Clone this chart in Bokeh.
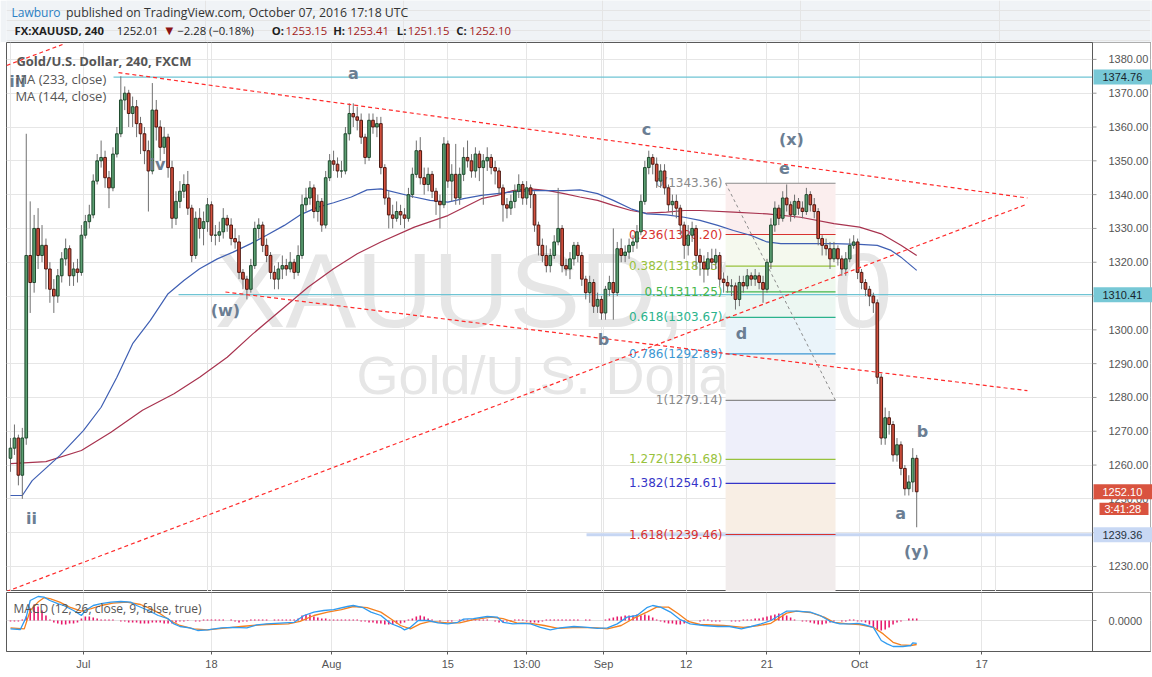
from bokeh.plotting import figure
from bokeh.layouts import column
from bokeh.models import Range1d, FixedTicker, NumeralTickFormatter, Grid
from bokeh.core.properties import value
from bokeh.embed import file_html
from bokeh.resources import INLINE

# ---------------- data (FX:XAUUSD, 240, two 4h bars per candle) ----------------
first_open = 1262.0
close = [
    1265, 1268, 1257, 1268, 1322, 1314, 1330, 1322, 1325, 1318,
    1312, 1310, 1316, 1321, 1324, 1316, 1318, 1317, 1328, 1332,
    1334, 1344, 1350, 1351, 1345, 1342, 1352, 1358, 1368, 1370,
    1364, 1366, 1361, 1358, 1353, 1347, 1365, 1360, 1354, 1357,
    1348, 1333, 1338, 1341, 1343, 1336, 1322, 1333, 1330, 1332,
    1337, 1328, 1328, 1329, 1333, 1331, 1327, 1326, 1317, 1315,
    1312, 1319, 1330, 1331, 1325, 1322, 1317, 1315, 1318, 1319,
    1318, 1320, 1317, 1322, 1337, 1339, 1342, 1335, 1338, 1331,
    1345, 1350, 1349, 1347, 1347, 1358, 1364, 1363, 1362, 1357,
    1351, 1362, 1360, 1361, 1348, 1339, 1334, 1333, 1335, 1334,
    1333, 1340, 1346, 1353, 1345, 1343, 1346, 1341, 1338, 1337,
    1355, 1344, 1346, 1339, 1346, 1351, 1350, 1347, 1352, 1348,
    1350, 1351, 1348, 1347, 1342, 1337, 1336, 1338, 1341, 1343,
    1339, 1342, 1340, 1331, 1325, 1322, 1319, 1322, 1326, 1330,
    1319, 1318, 1321, 1325, 1322, 1315, 1311, 1314, 1307, 1309,
    1305, 1312, 1314, 1311, 1324, 1322, 1323, 1325, 1326, 1329,
    1338, 1348, 1351, 1349, 1344, 1347, 1342, 1337, 1338, 1336,
    1331, 1325, 1328, 1330, 1322, 1320, 1318, 1321, 1320, 1322,
    1315, 1314, 1313, 1313, 1309, 1314, 1313, 1316, 1315, 1316,
    1314, 1312, 1320, 1331, 1336, 1333, 1339, 1337, 1334, 1338,
    1336, 1335, 1340, 1337, 1335, 1327, 1325, 1324, 1321, 1324,
    1321, 1318, 1321, 1325, 1326, 1317, 1314, 1312, 1310, 1308,
    1286, 1268, 1274, 1272, 1263, 1266, 1259, 1253, 1255, 1262,
    1252.10,
]
high = [
    1268, 1272, 1269, 1271, 1358, 1338, 1334, 1336, 1331, 1327,
    1320, 1315, 1318, 1323, 1327, 1325, 1320, 1321, 1331, 1334,
    1337, 1346, 1352, 1356, 1353, 1347, 1354, 1360, 1375, 1372,
    1371, 1369, 1368, 1363, 1360, 1356, 1373, 1368, 1362, 1360,
    1358, 1350, 1341, 1344, 1346, 1347, 1337, 1335, 1336, 1335,
    1339, 1338, 1331, 1332, 1336, 1334, 1333, 1330, 1328, 1318,
    1316, 1321, 1332, 1333, 1332, 1327, 1323, 1319, 1320, 1322,
    1321, 1323, 1321, 1325, 1340, 1342, 1344, 1343, 1340, 1339,
    1347, 1352, 1353, 1351, 1350, 1360, 1367, 1367, 1366, 1364,
    1358, 1364, 1364, 1363, 1363, 1349, 1341, 1337, 1338, 1337,
    1336, 1342, 1348, 1356, 1357, 1348, 1348, 1347, 1342, 1340,
    1357, 1356, 1349, 1355, 1348, 1354, 1356, 1352, 1354, 1353,
    1352, 1354, 1352, 1350, 1348, 1343, 1339, 1340, 1343, 1346,
    1344, 1344, 1343, 1341, 1332, 1327, 1325, 1324, 1328, 1342,
    1331, 1321, 1323, 1326, 1326, 1323, 1316, 1316, 1315, 1311,
    1310, 1313, 1316, 1330, 1326, 1327, 1325, 1327, 1328, 1331,
    1340, 1350, 1353, 1352, 1351, 1349, 1349, 1343, 1340, 1340,
    1337, 1332, 1331, 1332, 1331, 1324, 1322, 1323, 1324, 1324,
    1323, 1317, 1316, 1315, 1314, 1316, 1316, 1318, 1317, 1318,
    1317, 1316, 1321, 1333, 1338, 1337, 1341, 1343, 1338, 1340,
    1339, 1338, 1342, 1341, 1339, 1336, 1328, 1327, 1326, 1326,
    1325, 1322, 1323, 1327, 1328, 1327, 1318, 1315, 1313, 1311,
    1309, 1287, 1277, 1276, 1273, 1268, 1267, 1260, 1257, 1265,
    1263,
]
low = [
    1258, 1263, 1254, 1250, 1266, 1305, 1311, 1318, 1320, 1312,
    1308, 1305, 1308, 1314, 1319, 1313, 1313, 1314, 1316, 1327,
    1330, 1333, 1343, 1348, 1342, 1336, 1341, 1351, 1357, 1365,
    1360, 1360, 1357, 1352, 1349, 1335, 1346, 1356, 1350, 1352,
    1345, 1330, 1331, 1336, 1339, 1334, 1320, 1321, 1327, 1325,
    1329, 1326, 1325, 1326, 1327, 1329, 1325, 1324, 1315, 1312,
    1309, 1311, 1318, 1327, 1323, 1320, 1315, 1312, 1312, 1315,
    1316, 1317, 1315, 1316, 1321, 1335, 1337, 1333, 1332, 1329,
    1330, 1344, 1347, 1345, 1345, 1346, 1356, 1360, 1359, 1355,
    1349, 1350, 1358, 1357, 1346, 1337, 1330, 1330, 1332, 1331,
    1330, 1332, 1339, 1345, 1343, 1340, 1341, 1339, 1334, 1330,
    1336, 1342, 1338, 1337, 1337, 1344, 1348, 1345, 1345, 1344,
    1337, 1347, 1346, 1343, 1340, 1332, 1333, 1334, 1336, 1339,
    1337, 1337, 1336, 1329, 1322, 1320, 1317, 1317, 1321, 1325,
    1317, 1316, 1315, 1319, 1320, 1313, 1309, 1308, 1305, 1305,
    1303, 1303, 1310, 1303, 1310, 1320, 1320, 1321, 1323, 1324,
    1328, 1337, 1346, 1346, 1342, 1342, 1340, 1335, 1334, 1333,
    1328, 1321, 1322, 1326, 1318, 1316, 1314, 1316, 1318, 1318,
    1313, 1311, 1311, 1310, 1306, 1307, 1311, 1312, 1313, 1313,
    1312, 1308, 1311, 1318, 1329, 1331, 1332, 1335, 1332, 1333,
    1334, 1333, 1334, 1335, 1333, 1325, 1322, 1322, 1318, 1320,
    1319, 1316, 1316, 1320, 1324, 1315, 1312, 1310, 1307, 1305,
    1284, 1266, 1266, 1269, 1261, 1261, 1257, 1251, 1251, 1252,
    1241.6,
]
bars_per_candle = 2

ma144_x = [0, 6, 11, 25, 37, 46, 54, 62, 71, 80, 88, 96, 105, 113, 122, 130, 139, 147, 156, 164,
           173, 181, 188, 205, 213, 222, 230, 239, 247, 255, 264, 273, 281, 289, 298, 306, 315, 323,
           333, 342, 350, 359, 367, 376, 384, 391, 401, 418, 431, 440, 447, 452, 460]
ma144 = [1251.0, 1251.0, 1255.4, 1262.8, 1270.2, 1277.1, 1286.0, 1295.9, 1302.8, 1310.7,
         1314.6, 1318.1, 1321.0, 1323.0, 1325.5, 1328.0, 1330.9, 1334.0, 1336.3, 1337.6,
         1339.3, 1341.4, 1341.7, 1339.3, 1338.3, 1337.8, 1338.8, 1339.8, 1340.3, 1340.8,
         1341.2, 1341.2, 1341.2, 1341.4, 1340.3, 1338.3, 1335.8, 1334.3, 1334.0, 1333.3,
         1332.4, 1330.9, 1329.4, 1327.9, 1326.0, 1325.5, 1325.5, 1325.5, 1325.3, 1325.0,
         1323.5, 1321.5, 1317.6]
ma233_x = [0, 18, 36, 51, 67, 83, 96, 110, 123, 139, 151, 164, 176, 188, 205, 222, 239, 247, 255,
           264, 273, 281, 289, 298, 306, 315, 323, 333, 342, 350, 367, 384, 401, 418, 431, 442, 452, 460]
ma233 = [1260.4, 1261.0, 1264.3, 1269.7, 1276.2, 1281.1, 1286.0, 1291.9, 1298.8, 1306.7,
         1312.6, 1318.1, 1322.5, 1326.0, 1330.4, 1333.8, 1338.8, 1339.8, 1341.2, 1341.7,
         1341.2, 1340.3, 1339.3, 1338.3, 1336.8, 1335.3, 1334.5, 1334.8, 1335.3, 1335.3,
         1334.8, 1334.3, 1333.3, 1331.4, 1330.4, 1328.4, 1325.0, 1322.0]

macd_x = [0, 5, 8, 10, 14, 17, 20, 24, 27, 32, 36, 38, 42, 46, 51, 56, 61, 64, 70, 75,
          80, 83, 86, 91, 95, 100, 107, 113, 120, 125, 130, 139, 144, 149, 154, 159, 164, 171, 174, 179,
          183, 188, 193, 198, 200, 203, 207, 212, 217, 222, 227, 230, 235, 242, 247, 250, 255, 260, 264, 269,
          274, 279, 286, 293, 298, 303, 308, 313, 318, 323, 326, 330, 335, 340, 345, 352, 359, 365, 371, 376,
          381, 386, 391, 394, 399, 406, 411, 416, 421, 426, 430, 433, 438, 442, 445, 448, 453, 457, 458, 460]
macd_line = [-4.2, -4.5, 1.7, 10, 12, 11.7, 10, 8.4, 7.5, 5, 2.5, 5, 7.5, 8.4, 9.2, 9.5, 9.2, 7.5, 5, 2.5,
             0.9, -1.7, -3, -3.7, -5, -4.7, -3.7, -3.4, -3.7, -2.2, -1.7, -1.2, -0.9, 2.5, 4.2, 5, 5.4, 7, 7.5, 6.4,
             4.2, 2.5, -1.5, -3.4, -4.7, -3.4, 0, 0, -1.2, -1.7, -0.9, 0.7, 0.9, 2, 1.7, -0.9, -1.7, -1.4, -1.7, -3.4,
             -4.7, -3.7, -3, -3.4, -3.9, -3.7, -1.7, 1.7, 2.5, 6.4, 7.5, 6.7, 4.2, 0.4, -1.7, -2.5, -3, -3, -4.2, -3,
             -1.7, 0, 3, 4.7, 4.7, 4.2, 2.5, -0.4, -1.7, -1.7, -1.4, -2, -3.4, -10, -11.7, -13, -13, -12.5, -11.2, -11.4]
signal_x = [0, 7, 10, 14, 17, 20, 25, 30, 36, 41, 46, 52, 59, 66, 71, 76, 81, 86, 93, 100,
            110, 117, 123, 130, 141, 147, 154, 161, 168, 174, 181, 188, 193, 198, 203, 208, 213, 222, 228, 235,
            244, 250, 257, 264, 271, 278, 288, 298, 303, 310, 316, 323, 328, 334, 339, 344, 350, 362, 372, 379,
            386, 394, 399, 406, 413, 418, 425, 431, 438, 443, 448, 452, 457, 460]
signal_line = [-3.7, -4.2, 5, 9.2, 11.4, 10.9, 9.2, 6.7, 4.7, 5.9, 7.5, 8.7, 9.2, 8, 5.9, 3.4, 0, -2.5, -4.2, -4.7,
               -3.7, -3, -2.5, -2, -1.7, -0.4, 2.5, 4.2, 5.4, 7, 6.4, 4.2, 0.9, -2.5, -4.2, -1.7, -0.4, -1.2, -1.2, 0.4,
               1.7, 0.9, -1.2, -1.4, -2.5, -3.9, -3.4, -3.7, -4.2, -2.5, 0.9, 4.2, 6.7, 6.7, 3.4, -0.4, -2, -2.5, -3.4, -2.7,
               -1.4, 3.7, 4.7, 4, 1.7, -0.9, -1.7, -2, -3.4, -6.7, -10.9, -12.2, -12.5, -12]
macd_hist = [
    -0.5, -0.5, -0.5, 0.5, 2, 6, 8, 7, 5, 2.5,
    0.5, -1, -1.5, -2, -2, -1.5, -1.5, -1, 1, 2,
    2, 1.5, 1, 0.5, 0.5, 0.5, 0.5, 0, -0.5, -0.5,
    -1, -1, -1, -1.5, -1.5, -1.5, -1, -1, -1, -1.5,
    -1.5, -1.5, -1, -0.5, -0.5, -0.3, 0, -0.5, -0.5, 0.5,
    0.5, 0.5, 0.5, 0.5, 0.5, 0, 0.5, -0.5, -1, -0.5,
    -0.5, 0.5, 0.5, 0.5, 0.5, 0.5, 0, 0.5, 0.5, 0.5,
    0.5, 0.5, 0.5, 1, 2.5, 3, 3, 2, 1.5, 1,
    1, 0.5, 0.5, 0.5, 0.5, 0.5, 0.5, 0.5, 0.5, -0.5,
    -0.5, -1, -1, -1.5, -1.5, -2, -2, -2, -1.5, -1.5,
    -1, 0.5, 1, 2, 2.5, 2, 1, 0.5, 0, -0.5,
    0, -0.5, -0.5, 0, 0.5, 0.5, 0.5, 0.5, 0.5, 0.5,
    0.5, 0.5, 0, -0.5, -1, -1, -0.5, -0.5, 0.5, 0.5,
    0.5, -0.5, -1, -1, -1, -0.5, 0.5, 0.5, 0.5, 0.5,
    0.5, 0.5, 0.5, 0.5, 0.5, 0, 0.5, 0.5, 0, 0,
    0, 0.5, 1, 1.5, 2, 2, 2.5, 2.5, 2.5, 3,
    2.5, 3, 2.5, 1.5, 0.5, -0.5, -1, -1.5, -1.5, -2,
    -2, -1.5, -0.5, 0, 0, -0.5, 0.5, 0.5, -0.5, -0.5,
    -0.5, 0, 0, -0.5, -0.5, -0.5, 0.5, 0.5, 0.5, 1,
    1, 1.5, 2, 2.5, 3, 3.5, 3, 2.5, 1.5, 0.5,
    0, -0.5, -0.5, -1, -1.5, -2, -2, -1.5, -1, -0.5,
    0, -0.5, -0.5, 0.5, 0.5, -0.5, -0.5, -1, -2, -3.5,
    -4.5, -5, -4.5, -3.5, -2, -1, -0.5, 0, 1, 1,
    1,
]

fib_ratio = [0, 0.236, 0.382, 0.5, 0.618, 0.786, 1, 1.272, 1.382, 1.618]
fib_price = [1343.36, 1328.20, 1318.83, 1311.25, 1303.67, 1292.89, 1279.14, 1261.68, 1254.61, 1239.46]
fib_start, fib_end = 363.0, 418.8

hline_price = [1374.76, 1310.41, 1239.36]
hline_start = [52.3, 85.3, 292.4]

trend_x0 = [54.8, 109.1, -2.0, -2.0]
trend_y0 = [1376.1, 1311.2, 1222.6, 1378.2]
trend_x1 = [516.2, 516.2, 515.2, 26.4]
trend_y1 = [1339.0, 1282.0, 1337.0, 1384.4]

wave_text = ["iii", "a", "iv", "(w)", "ii", "c", "(x)", "e", "b", "d", "b", "a", "(y)"]
wave_x = [3.6, 174.1, 74.6, 109.1, 10.7, 322.8, 396.4, 392.9, 301.0, 371.1, 462.9, 451.8, 459.9]
wave_y = [1373.5, 1375.9, 1348.9, 1305.7, 1244.2, 1359.3, 1356.3, 1348.0, 1297.2, 1298.9, 1270.0, 1245.7, 1234.4]

tag_price = [1374.76, 1310.41, 1252.10, 1239.36]
tag_text = ["1374.76", "1310.41", "1252.10", "1239.36"]
tag_fill = ["#77c8d6", "#77c8d6", "#d9533f", "#c8d8f4"]
tag_color = ["#17262e", "#17262e", "#ffffff", "#26323d"]
countdown_text = "3:41:28"

tick_idx = [37, 102, 163, 222, 262, 301, 343, 384, 431, 493]
tick_label = ["Jul", "18", "Aug", "15", "13:00", "Sep", "12", "21", "Oct", "17"]
price_ticks = list(range(1230, 1390, 10))

# ---------------- derived ----------------
n = len(close)
assert len(high) == n and len(low) == n and len(macd_hist) == n
xs = [bars_per_candle * i for i in range(n)]
opens = [first_open] + close[:-1]
hi = [max(hh, o, c) for hh, o, c in zip(high, opens, close)]
lo = [min(ll, o, c) for ll, o, c in zip(low, opens, close)]
up = [c >= o for o, c in zip(opens, close)]
body_top = [max(o, c) for o, c in zip(opens, close)]
body_bot = [min(o, c) for o, c in zip(opens, close)]
body_fill = ["#5c9f72" if u else "#d4503d" for u in up]
body_line = ["#1f4a2e" if u else "#4d1710" for u in up]

SANS = "Liberation Sans"
UI = "Open Sans"
VERD = "DejaVu Sans"
PX_PER_BAR = 1.97
X0 = -2.03                      # left frame edge (px 6)
X_AX = X0 + 1086 / PX_PER_BAR   # price-scale separator (px 1092)
X_END = X0 + 1144 / PX_PER_BAR  # outer right edge (px 1150)
Y0, Y1 = 1222.6, 1385.0
PX_PER_USD = 549 / (Y1 - Y0)
GRID = "#e6e6e6"
FRAME = "#5a5a5a"
BG = "#f0f3f6"


def style_scale(fig):
    ax = fig.yaxis[0]
    ax.major_label_text_font = SANS
    ax.major_label_text_font_size = "11px"
    ax.major_label_text_color = "#555555"
    ax.axis_line_color = None
    ax.major_tick_line_color = None
    ax.minor_tick_line_color = None
    ax.major_label_standoff = -48


# ---------------- header ----------------
h = figure(width=1152, height=42, x_range=Range1d(0, 1152), y_range=Range1d(42, 0),
           x_axis_location=None, y_axis_location=None, toolbar_location=None, output_backend="svg",
           min_border=0, outline_line_color=None, background_fill_color=BG, border_fill_color=BG)
h.text(x=[5], y=[12], text=["Lawburo"], text_font=value(UI), text_font_size=value("12px"),
       text_color="#2b7fc3", text_baseline="middle")
h.text(x=[60], y=[12], text=["published on TradingView.com, October 07, 2016 17:18 UTC"],
       text_font=value(UI), text_font_size=value("12.3px"), text_color="#333333", text_baseline="middle")
h.text(x=[8, 267, 329, 393, 453], y=[30] * 5, text=["FX:XAUUSD, 240", "O:", "H:", "L:", "C:"],
       text_font=value(UI), text_font_size=value("11.3px"), text_font_style="bold", text_color="#1e1e1e",
       text_baseline="middle")
h.text(x=[111, 172], y=[30, 30], text=["1252.01", "\u22122.28 (\u22120.18%)"], text_font=value(UI),
       text_font_size=value("11.3px"), text_color="#1e1e1e", text_baseline="middle")
h.text(x=[160], y=[30], text=["\u25bc"], text_font=value(VERD), text_font_size=value("10px"),
       text_color="#8b1414", text_baseline="middle")
h.text(x=[281, 343, 404, 466], y=[30] * 4, text=["1253.15", "1253.41", "1251.15", "1252.10"],
       text_font=value(UI), text_font_size=value("11.3px"), text_color="#a31c1c", text_baseline="middle")

# ---------------- price panel ----------------
p = figure(frame_width=1144, frame_height=549, x_range=Range1d(X0, X_END), y_range=Range1d(Y0, Y1),
           x_axis_location=None, y_axis_location="right", toolbar_location=None, output_backend="svg",
           min_border_left=6, min_border_right=2, min_border_top=0, min_border_bottom=0,
           outline_line_color=FRAME, background_fill_color="white", border_fill_color="white")
p.add_layout(Grid(dimension=0, ticker=FixedTicker(ticks=tick_idx), grid_line_color=GRID))
p.ygrid.grid_line_color = GRID
p.yaxis.ticker = FixedTicker(ticks=price_ticks)
p.yaxis.formatter = NumeralTickFormatter(format="0.00")
style_scale(p)

# watermark
p.text(x=[275.7], y=[1311.9], text=["XAUUSD, 240"], text_font=value(SANS), text_font_size=value("106px"),
       text_color="#e6e6e6", text_align="center", text_baseline="middle")
p.text(x=[274.6], y=[1286.5], text=["Gold/U.S. Dollar"], text_font=value(SANS), text_font_size=value("54px"),
       text_color="#e6e6e6", text_align="center", text_baseline="middle")

# fib tool background bands
band_top = fib_price
band_bot = fib_price[1:] + [Y0]
band_col = ["#fbeeee", "#f5f9ee", "#eef8ee", "#ecf7f2", "#eaf4fa", "#f4f4f4", "#eeeffa",
            "#eff0f5", "#f8eee4", "#f1ecec"]
p.quad(left=[fib_start] * len(band_top), right=[fib_end] * len(band_top), top=band_top, bottom=band_bot,
       fill_color=band_col, line_color=None)

# horizontal levels
p.segment(x0=hline_start[:2], y0=hline_price[:2], x1=[X_AX] * 2, y1=hline_price[:2],
          line_color="#6fc4d4", line_width=1.3)
p.segment(x0=[hline_start[2]], y0=[hline_price[2]], x1=[X_AX], y1=[hline_price[2]],
          line_color="#c6d6f3", line_width=3)

# fib levels and labels
fib_col = ["#8a8a8a", "#d8322f", "#98c23d", "#45b649", "#2bb38c", "#3c97d3", "#8a8a8a", "#98c23d",
           "#3535c8", "#d8322f"]
p.segment(x0=[fib_start] * len(fib_price), y0=fib_price, x1=[fib_end] * len(fib_price), y1=fib_price,
          line_color=fib_col, line_width=1.2)
fib_text = ["%g(%.2f)" % (r, v) for r, v in zip(fib_ratio, fib_price)]
p.text(x=[fib_start - 1.6] * len(fib_price), y=fib_price, text=fib_text, text_color=fib_col,
       text_font=value(VERD), text_font_size=value("12px"), text_align="right", text_baseline="middle")
p.segment(x0=[fib_start], y0=[fib_price[0]], x1=[fib_end], y1=[fib_price[6]],
          line_color="#8c8c8c", line_dash="3 3", line_width=1)

# moving averages
p.line(ma233_x, ma233, line_color="#a8334f", line_width=1.2)
p.line(ma144_x, ma144, line_color="#3f5fb3", line_width=1.2)

# candles
p.segment(x0=xs, y0=lo, x1=xs, y1=hi, line_color="#707070", line_width=1)
p.vbar(x=xs, width=1.35, top=body_top, bottom=body_bot, fill_color=body_fill, line_color=body_line,
       line_width=1)

# trend lines
p.segment(x0=trend_x0, y0=trend_y0, x1=trend_x1, y1=trend_y1, line_color="#ff2b2b",
          line_dash="4 3", line_width=1.2)

# wave labels
p.text(x=wave_x, y=wave_y, text=wave_text, text_font=value(VERD), text_font_size=value("16px"),
       text_font_style="bold", text_color="#6b7e93", text_align="center", text_baseline="middle")

# legend texts
p.text(x=[3.0], y=[1379.4], text=["Gold/U.S. Dollar, 240, FXCM"], text_font=value(UI),
       text_font_size=value("13px"), text_font_style="bold", text_color="#555555", text_baseline="middle")
p.text(x=[2.5, 2.5], y=[1374.3, 1369.3], text=["MA (233, close)", "MA (144, close)"], text_font=value(UI),
       text_font_size=value("13px"), text_color="#555555", text_baseline="middle")

# price-scale strip (right of the separator)
p.quad(left=[X_AX], right=[X_END + 1], top=[Y1 + 1], bottom=[Y0 - 1], fill_color="white", line_color=None)
p.segment(x0=[X_AX], y0=[Y0 - 1], x1=[X_AX], y1=[Y1 + 1], line_color=FRAME, line_width=1)
tick_len = 4 / PX_PER_BAR
p.segment(x0=[X_AX] * len(price_ticks), y0=price_ticks, x1=[X_AX + tick_len] * len(price_ticks),
          y1=price_ticks, line_color="#9a9a9a", line_width=1)
half = 7.5 / PX_PER_USD
p.quad(left=[X_AX + 0.5] * len(tag_price), right=[X_END + 1] * len(tag_price),
       top=[v + half for v in tag_price], bottom=[v - half for v in tag_price],
       fill_color=tag_fill, line_color=None, level="overlay")
p.text(x=[X_AX + 10 / PX_PER_BAR] * len(tag_price), y=tag_price, text=tag_text, text_color=tag_color,
       text_font=value(SANS), text_font_size=value("11px"), text_baseline="middle", level="overlay")
cd_y = tag_price[2] - 2 * half - 2 / PX_PER_USD
p.quad(left=[X_AX + 7 / PX_PER_BAR], right=[X_AX + 56 / PX_PER_BAR], top=[cd_y + half - 0.4],
       bottom=[cd_y - half + 0.4], fill_color="#d9533f", line_color=None, level="overlay")
p.text(x=[X_AX + 12 / PX_PER_BAR], y=[cd_y], text=[countdown_text], text_color="#ffffff",
       text_font=value(SANS), text_font_size=value("11px"), text_baseline="middle", level="overlay")

# ---------------- MACD panel ----------------
m = figure(frame_width=1144, frame_height=59, x_range=p.x_range, y_range=Range1d(-15.5, 14.0),
           y_axis_location="right", toolbar_location=None, output_backend="svg",
           min_border_left=6, min_border_right=2, min_border_top=1, min_border_bottom=0,
           outline_line_color=FRAME, background_fill_color="white", border_fill_color="white")
m.xaxis.ticker = FixedTicker(ticks=tick_idx)
m.xaxis.major_label_overrides = {t: s for t, s in zip(tick_idx, tick_label)}
m.xaxis.major_label_text_font = SANS
m.xaxis.major_label_text_font_size = "11px"
m.xaxis.major_label_text_color = "#555555"
m.xaxis.axis_line_color = FRAME
m.xaxis.major_tick_line_color = FRAME
m.xaxis.major_tick_in = 0
m.xaxis.major_tick_out = 3
m.xaxis.minor_tick_line_color = None
m.xaxis.major_label_standoff = 3
m.xgrid.grid_line_color = GRID
m.yaxis.ticker = FixedTicker(ticks=[0])
m.yaxis.formatter = NumeralTickFormatter(format="0.0000")
style_scale(m)
m.ygrid.grid_line_color = "#e2e2e2"

m.vbar(x=xs, width=0.8, top=macd_hist, bottom=0, fill_color="#e8196b", line_color=None)
m.line(signal_x, signal_line, line_color="#f5811f", line_width=1.3)
m.line(macd_x, macd_line, line_color="#2f9bf0", line_width=1.3)
m.text(x=[1.5], y=[6.0], text=["MACD (12, 26, close, 9, false, true)"], text_font=value(UI),
       text_font_size=value("12px"), text_color="#555555", text_baseline="middle")
m.quad(left=[X_AX], right=[X_END + 1], top=[15], bottom=[-16], fill_color="white", line_color=None)
m.segment(x0=[X_AX], y0=[-16], x1=[X_AX], y1=[15], line_color=FRAME, line_width=1)
m.segment(x0=[X_AX], y0=[0], x1=[X_AX + tick_len], y1=[0], line_color="#9a9a9a", line_width=1)

layout = column(h, p, m, spacing=0)
open("out.html", "w").write(file_html(layout, INLINE, title="XAUUSD 240"))
